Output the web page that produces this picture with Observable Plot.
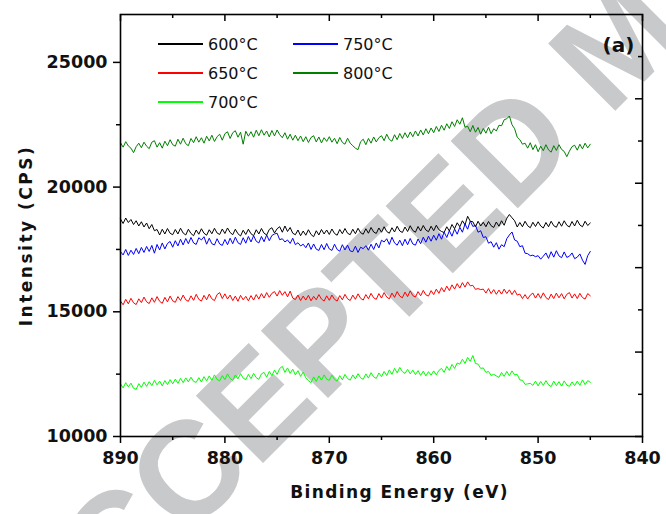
<!DOCTYPE html>
<html>
<head>
<meta charset="utf-8">
<script src="https://cdn.jsdelivr.net/npm/d3@7"></script>
<script src="https://cdn.jsdelivr.net/npm/@observablehq/plot@0.6"></script>
<style>
  html, body { margin: 0; padding: 0; background: #fff; }
  #chart { position: relative; width: 666px; height: 514px; overflow: hidden; background: #fff; }
  #stamp { position: absolute; left: 0; top: 0; z-index: 0; }
  #chart > svg.plot { position: relative; z-index: 1; }
  #legend { position: absolute; left: 0; top: 0; z-index: 2; font-family: "DejaVu Sans", sans-serif; font-size: 16px; color: #111; }
  .key { position: absolute; height: 20px; display: flex; align-items: center; white-space: nowrap; }
  .key i { display: inline-block; width: 45px; height: 1.4px; margin-right: 5px; }
</style>
</head>
<body>
<div id="chart">
  <svg id="stamp" width="666" height="514">
    <text x="45" y="681" transform="rotate(-45 45 681)" font-family="Liberation Sans, Arial, sans-serif" font-weight="bold" font-size="138" fill="#c8c9cb">ACCEPTED MANUSCRIPT</text>
  </svg>
  <div id="legend"></div>
</div>
<script>
// Ni 2p region, spectra recorded after annealing at five temperatures
const labels = ["600°C", "650°C", "700°C", "750°C", "800°C"];
const colors = ["#000000", "#ff0000", "#00ff00", "#0000ff", "#008000"];

// binding energy grid: 890 eV down to 845 eV, 0.25 eV step
const energyStart = 890, energyStep = 0.25;

const cps600 = [
18720,18540,18760,18580,18700,18500,18650,18440,18610,18400,
18560,18330,18500,18250,18300,18080,18310,18120,18340,18150,
18090,18300,18120,18350,18160,18080,18310,18140,18050,18280,
18110,18330,18150,18070,18290,18130,18350,18160,18100,18320,
18140,18360,18180,18090,18310,18130,18040,18270,18100,18310,
18130,18050,18290,18120,18340,18150,18080,18300,18370,18160,
18330,18410,18190,18440,18220,18380,18150,18090,18280,18050,
18240,18070,18290,18100,18010,18250,18080,18300,18120,18280,
18100,18320,18140,18070,18300,18130,18340,18150,18090,18310,
18130,18350,18170,18110,18330,18150,18380,18200,18140,18360,
18190,18410,18220,18150,18370,18200,18430,18240,18180,18400,
18220,18450,18260,18190,18420,18240,18460,18280,18210,18430,
18250,18470,18290,18220,18180,18410,18240,18500,18330,18570,
18410,18650,18490,18830,18630,18610,18400,18630,18440,18590,
18410,18620,18450,18380,18600,18430,18650,18470,18750,18900,
18770,18650,18400,18580,18410,18630,18450,18370,18590,18420,
18610,18440,18360,18580,18410,18630,18450,18390,18610,18430,
18650,18470,18400,18620,18440,18670,18480,18410,18630,18460,
18560];

const cps650 = [
15430,15280,15500,15320,15540,15360,15290,15520,15370,15590,
15400,15330,15560,15380,15610,15420,15340,15580,15400,15630,
15440,15380,15610,15450,15670,15480,15420,15640,15460,15700,
15500,15430,15660,15480,15710,15520,15450,15690,15770,15530,
15720,15510,15670,15450,15630,15420,15660,15480,15620,15440,
15650,15470,15690,15510,15730,15550,15770,15580,15740,15810,
15630,15850,15660,15810,15600,15830,15550,15490,15670,15450,
15630,15470,15660,15440,15620,15480,15690,15510,15430,15640,
15460,15670,15500,15430,15650,15480,15700,15520,15450,15670,
15500,15720,15540,15470,15690,15520,15740,15560,15500,15730,
15550,15770,15590,15520,15750,15580,15810,15630,15560,15790,
15610,15840,15650,15590,15810,15640,15860,15680,15630,15850,
15690,15910,15740,15970,15800,16030,15850,16080,15910,16130,
15950,16170,15990,16200,16040,16060,15900,15930,15890,15910,
15750,15930,15730,15890,15700,15870,15710,15910,15730,15880,
15690,15860,15670,15710,15530,15690,15510,15670,15750,15550,
15730,15540,15760,15570,15490,15710,15530,15750,15560,15730,
15520,15700,15770,15550,15720,15530,15740,15570,15510,15730,
15640];

const cps700 = [
12110,11950,12160,11990,12140,11930,11890,12120,11970,12180,
12010,12200,12040,12250,12070,12220,12030,12240,12080,12280,
12110,12300,12130,12330,12160,12350,12190,12380,12210,12170,
12360,12190,12400,12230,12430,12250,12470,12290,12230,12440,
12280,12510,12330,12250,12470,12310,12520,12340,12280,12490,
12320,12530,12360,12290,12510,12570,12380,12610,12440,12660,
12490,12730,12810,12570,12750,12530,12700,12470,12640,12410,
12580,12350,12240,12160,12390,12210,12430,12260,12470,12300,
12250,12460,12290,12220,12440,12270,12490,12320,12260,12470,
12310,12520,12350,12290,12510,12340,12560,12390,12330,12550,
12400,12610,12440,12670,12490,12730,12550,12770,12600,12530,
12690,12510,12660,12480,12640,12450,12620,12430,12600,12460,
12630,12470,12650,12730,12570,12810,12650,12890,12730,12950,
12900,13100,12930,13170,13010,13250,12930,12900,12730,12750,
12570,12610,12450,12490,12430,12370,12570,12410,12610,12440,
12630,12470,12490,12270,12250,12090,12110,12130,12050,12220,
12030,12210,12050,12240,12070,12000,12220,12040,12200,12020,
12230,12060,12010,12190,12040,12220,12050,12270,12080,12240,
12170];

const cps750 = [
17410,17280,17500,17260,17470,17300,17540,17330,17580,17380,
17620,17420,17660,17350,17700,17480,17760,17520,17740,17820,
17590,17850,17640,17910,17680,17940,17730,17980,17760,17700,
17970,17880,18010,17710,17950,17730,17680,17930,17720,17660,
17900,17690,17950,17730,17990,17770,17700,17970,17750,18020,
17800,18050,17830,17760,18020,17810,18080,17850,18060,18120,
18150,17890,17930,17800,17880,17740,17950,17690,17770,17640,
17710,17570,17760,17500,17720,17510,17460,17700,17490,17740,
17520,17460,17710,17500,17430,17690,17480,17670,17440,17410,
17630,17380,17590,17530,17650,17470,17710,17500,17760,17560,
17870,17800,17930,17700,17990,17760,17670,17870,17650,17910,
17690,17940,17720,17670,17920,17730,17990,17790,18030,17830,
18070,17870,18130,17910,18190,17980,18250,18030,18320,18110,
18390,18190,18520,18310,18640,18420,18470,18190,18250,17980,
18010,17750,17810,17590,17770,17510,17690,17610,17930,18080,
18200,17880,17830,17610,17650,17350,17330,17250,17270,17210,
17250,17110,17230,17360,17140,17410,17190,17450,17240,17170,
17400,17180,17230,17360,17130,17190,17320,17070,16900,17250,
17420];

const cps800 = [
21780,21600,21820,21650,21560,21380,21620,21760,21580,21800,
21640,21540,21800,21860,21600,21780,21560,21840,21660,21900,
21700,21640,21920,21720,21960,21740,21660,21950,21780,22020,
21800,21980,21760,22040,21850,22080,21830,22020,22120,21880,
22140,22220,21950,22180,22260,22000,22200,21720,22240,22040,
22220,22000,22280,22060,22300,22080,22250,22010,22270,22050,
22290,22100,21980,22180,21920,22120,21880,22080,21860,22050,
21820,22020,21790,21990,22060,21810,22010,21770,21980,21830,
22020,21800,21960,21740,21990,21790,21720,21960,21760,21660,
21560,21500,21820,21920,21700,21950,21760,22010,21810,21980,
22060,21860,22120,21910,21840,22100,21900,22150,21950,22180,
21980,22210,22020,22250,22050,22290,22090,22340,22140,22370,
22180,22430,22230,22480,22280,22540,22350,22620,22430,22700,
22520,22780,22400,22440,22220,22470,22200,22390,22120,22350,
22160,22400,22140,22340,22250,22480,22460,22700,22740,22850,
22500,22340,22000,21900,21720,21760,21560,21780,21500,21700,
21420,21640,21460,21700,21490,21400,21660,21470,21700,21510,
21430,21220,21440,21620,21680,21480,21720,21530,21760,21570,
21720];

const spectra = [cps600, cps650, cps700, cps750, cps800];

// axis ticks
const xMajor = [890, 880, 870, 860, 850, 840];
const xMinor = [885, 875, 865, 855, 845];
const yMajor = [10000, 15000, 20000, 25000];
const yMinor = [12500, 17500, 22500];
const rightMajor = [10000, 13385, 16770, 20155, 23540];
const rightMinor = [11692, 15077, 18462, 21847, 25232];

const rows = spectra.flatMap((values, s) =>
  values.map((cps, i) => ({label: labels[s], energy: energyStart - energyStep * i, cps}))
);

const W = 666, H = 514, mL = 120, mR = 24, mT = 14, mB = 78;
const innerW = W - mL - mR, innerH = H - mT - mB;
const lab = {fontSize: 17.5, fontWeight: "bold", fill: "#111"};

const chart = Plot.plot({
  width: W, height: H,
  marginLeft: mL, marginRight: mR, marginTop: mT, marginBottom: mB,
  style: {background: "transparent", fontFamily: "DejaVu Sans, sans-serif", overflow: "visible"},
  x: {domain: [890, 840], axis: null},
  y: {domain: [10000, 26920], axis: null},
  color: {domain: labels, range: colors},
  marks: [
    Plot.line(rows, {x: "energy", y: "cps", z: "label", stroke: "label", strokeWidth: 1}),
    Plot.frame({stroke: "#000", strokeWidth: 1.6}),
    // outward ticks, bottom and left
    Plot.tickX(xMajor, {x: d => d, insetTop: innerH, insetBottom: -7, strokeWidth: 1.5}),
    Plot.tickX(xMinor, {x: d => d, insetTop: innerH, insetBottom: -4, strokeWidth: 1.5}),
    Plot.tickY(yMajor, {y: d => d, insetLeft: -7, insetRight: innerW, strokeWidth: 1.5}),
    Plot.tickY(yMinor, {y: d => d, insetLeft: -4, insetRight: innerW, strokeWidth: 1.5}),
    // inward ticks, top and right
    Plot.tickX(xMajor, {x: d => d, insetBottom: innerH - 7, strokeWidth: 1.5}),
    Plot.tickX(xMinor, {x: d => d, insetBottom: innerH - 4, strokeWidth: 1.5}),
    Plot.tickY(rightMajor, {y: d => d, insetLeft: innerW - 7, strokeWidth: 1.5}),
    Plot.tickY(rightMinor, {y: d => d, insetLeft: innerW - 4, strokeWidth: 1.5}),
    // tick labels
    Plot.text(xMajor, {x: d => d, frameAnchor: "bottom", dy: 27, text: d => String(d), ...lab}),
    Plot.text(yMajor, {y: d => d, frameAnchor: "left", dx: -13, textAnchor: "end", text: d => String(d), ...lab}),
    // axis titles and panel tag
    Plot.text(["Binding Energy (eV)"], {frameAnchor: "bottom", dx: 18, dy: 61, text: d => d, fontSize: 17, fontWeight: "bold", fill: "#111"}),
    Plot.text(["Intensity (CPS)"], {frameAnchor: "left", textAnchor: "middle", dx: -94, dy: 10, rotate: -90, text: d => d, fontSize: 17, fontWeight: "bold", fill: "#111"}),
    Plot.text(["(a)"], {frameAnchor: "top-right", textAnchor: "middle", dx: -24, dy: 23, text: d => d, fontSize: 20, fontWeight: "bold", fill: "#111"})
  ]
});
chart.classList.add("plot");

// letter spacing on the axis titles
d3.select(chart).selectAll("text").each(function () {
  const t = this.textContent;
  if (t === "Binding Energy (eV)") this.setAttribute("letter-spacing", "1.4");
  if (t === "Intensity (CPS)") this.setAttribute("letter-spacing", "2.5");
});

document.getElementById("chart").appendChild(chart);

// legend, two columns inside the frame
const keyPos = [[158, 44], [158, 73], [158, 102], [293, 44], [293, 73]];
const legend = d3.select("#legend");
labels.forEach((name, i) => {
  const k = legend.append("div").attr("class", "key")
    .style("left", keyPos[i][0] + "px").style("top", (keyPos[i][1] - 10) + "px");
  k.append("i").style("background", colors[i]);
  k.append("span").text(name);
});
</script>
</body>
</html>
